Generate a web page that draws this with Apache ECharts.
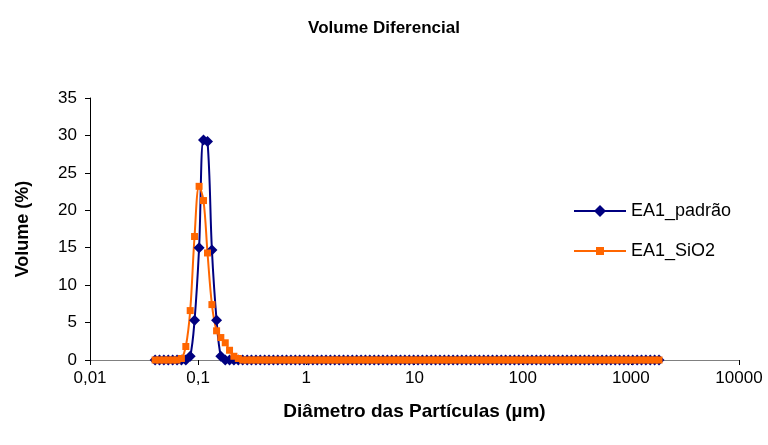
<!DOCTYPE html>
<html>
<head>
<meta charset="utf-8">
<script src="https://cdn.jsdelivr.net/npm/echarts@6/dist/echarts.min.js"></script>
<style>
html,body{margin:0;padding:0;background:#fff;}
#chart{width:768px;height:445px;}
</style>
</head>
<body>
<div id="chart"></div>
<script>
// Particle size channels (µm)
var sizes = [0.04, 0.0439, 0.0482, 0.0529, 0.0581, 0.0638, 0.07, 0.0769, 0.0844, 0.0926,
  0.102, 0.112, 0.122, 0.134, 0.148, 0.162, 0.178, 0.195, 0.214, 0.235,
  0.258, 0.284, 0.311, 0.342, 0.375, 0.412, 0.452, 0.496, 0.545, 0.598,
  0.656, 0.721, 0.791, 0.868, 0.953, 1.047, 1.149, 1.261, 1.385, 1.520,
  1.668, 1.832, 2.010, 2.207, 2.423, 2.660, 2.920, 3.205, 3.519, 3.863,
  4.240, 4.655, 5.110, 5.610, 6.158, 6.760, 7.421, 8.147, 8.943, 9.818,
  10.78, 11.83, 12.99, 14.26, 15.65, 17.18, 18.86, 20.71, 22.73, 24.95,
  27.39, 30.07, 33.01, 36.24, 39.78, 43.67, 47.94, 52.62, 57.77, 63.41,
  69.61, 76.42, 83.89, 92.09, 101.1, 111.0, 121.8, 133.7, 146.8, 161.2,
  176.9, 194.2, 213.2, 234.1, 256.9, 282.1, 309.6, 339.9, 373.1, 409.6,
  449.7, 493.6, 541.9, 594.9, 653.0, 716.9, 786.9, 863.9, 948.3, 1041,
  1143, 1255, 1377, 1512, 1660, 1822];

var padrao = [0, 0, 0, 0, 0, 0, 0, 0, 0.5, 5.3,
  15.0, 29.4, 29.2, 14.7, 5.3, 0.5, 0, 0, 0, 0,
  0, 0, 0, 0, 0, 0, 0, 0, 0, 0,
  0, 0, 0, 0, 0, 0, 0, 0, 0, 0,
  0, 0, 0, 0, 0, 0, 0, 0, 0, 0,
  0, 0, 0, 0, 0, 0, 0, 0, 0, 0,
  0, 0, 0, 0, 0, 0, 0, 0, 0, 0,
  0, 0, 0, 0, 0, 0, 0, 0, 0, 0,
  0, 0, 0, 0, 0, 0, 0, 0, 0, 0,
  0, 0, 0, 0, 0, 0, 0, 0, 0, 0,
  0, 0, 0, 0, 0, 0, 0, 0, 0, 0,
  0, 0, 0, 0, 0, 0];

var sio2 = [0, 0, 0, 0, 0, 0, 0.2, 1.8, 6.6, 16.5,
  23.2, 21.3, 14.3, 7.4, 3.9, 3.0, 2.3, 1.3, 0.5, 0.2,
  0, 0, 0, 0, 0, 0, 0, 0, 0, 0,
  0, 0, 0, 0, 0, 0, 0, 0, 0, 0,
  0, 0, 0, 0, 0, 0, 0, 0, 0, 0,
  0, 0, 0, 0, 0, 0, 0, 0, 0, 0,
  0, 0, 0, 0, 0, 0, 0, 0, 0, 0,
  0, 0, 0, 0, 0, 0, 0, 0, 0, 0,
  0, 0, 0, 0, 0, 0, 0, 0, 0, 0,
  0, 0, 0, 0, 0, 0, 0, 0, 0, 0,
  0, 0, 0, 0, 0, 0, 0, 0, 0, 0,
  0, 0, 0, 0, 0, 0];

var xTickLabels = ['0,01', '0,1', '1', '10', '100', '1000', '10000'];
var seriesNames = ['EA1_padrão', 'EA1_SiO2'];

var FONT = '"Liberation Sans", Arial, sans-serif';
var chart = echarts.init(document.getElementById('chart'), null, {renderer: 'canvas'});

function pairs(vals) { return sizes.map(function (s, i) { return [s, vals[i]]; }); }

var legendText = {fontFamily: FONT, fontSize: 18, color: '#000'};

chart.setOption({
  animation: false,
  backgroundColor: '#fff',
  title: {
    text: 'Volume Diferencial',
    left: 'center', top: 15,
    textStyle: {fontFamily: FONT, fontSize: 17, fontWeight: 'bold', color: '#000'}
  },
  grid: {left: 90, right: 29, top: 98, bottom: 85, containLabel: false},
  legend: [
    {
      orient: 'vertical', left: 573, top: 202, padding: 0,
      itemWidth: 52, itemHeight: 15, itemGap: 0,
      textStyle: legendText,
      data: [seriesNames[0]]
    },
    {
      orient: 'vertical', left: 573, top: 242, padding: 0,
      itemWidth: 52, itemHeight: 10, itemGap: 0,
      textStyle: legendText,
      data: [seriesNames[1]]
    }
  ],
  xAxis: {
    type: 'log', logBase: 10, min: 0.01, max: 10000,
    name: 'Diâmetro das Partículas (µm)',
    nameLocation: 'middle', nameGap: 42,
    nameTextStyle: {fontFamily: FONT, fontSize: 19, fontWeight: 'bold', color: '#000'},
    axisLine: {show: true, lineStyle: {color: '#808080', width: 1}},
    axisTick: {show: true, inside: false, length: 5, lineStyle: {color: '#000'}},
    minorTick: {show: false},
    splitLine: {show: false},
    axisLabel: {
      fontFamily: FONT, fontSize: 17, color: '#000', margin: 10,
      formatter: function (v) {
        var k = Math.round(Math.log(v) / Math.LN10) + 2;
        return xTickLabels[k] !== undefined ? xTickLabels[k] : '';
      }
    }
  },
  yAxis: {
    type: 'value', min: 0, max: 35, interval: 5,
    name: 'Volume (%)',
    nameLocation: 'middle', nameGap: 58, nameRotate: 90,
    nameTextStyle: {fontFamily: FONT, fontSize: 18, fontWeight: 'bold', color: '#000'},
    axisLine: {show: true, lineStyle: {color: '#000', width: 1}},
    axisTick: {show: true, inside: false, length: 5, lineStyle: {color: '#000'}},
    splitLine: {show: false},
    axisLabel: {fontFamily: FONT, fontSize: 17, color: '#000', margin: 13}
  },
  series: [
    {
      name: seriesNames[0], type: 'line', data: pairs(padrao),
      smooth: 0.35, symbol: 'diamond', symbolSize: 11, showAllSymbol: true,
      lineStyle: {color: '#000080', width: 2},
      itemStyle: {color: '#000080', borderWidth: 0}
    },
    {
      name: seriesNames[1], type: 'line', data: pairs(sio2),
      smooth: 0.35, symbol: 'rect', symbolSize: 7, showAllSymbol: true,
      lineStyle: {color: '#FF6600', width: 2},
      itemStyle: {color: '#FF6600', borderWidth: 0}
    }
  ]
});
</script>
</body>
</html>
